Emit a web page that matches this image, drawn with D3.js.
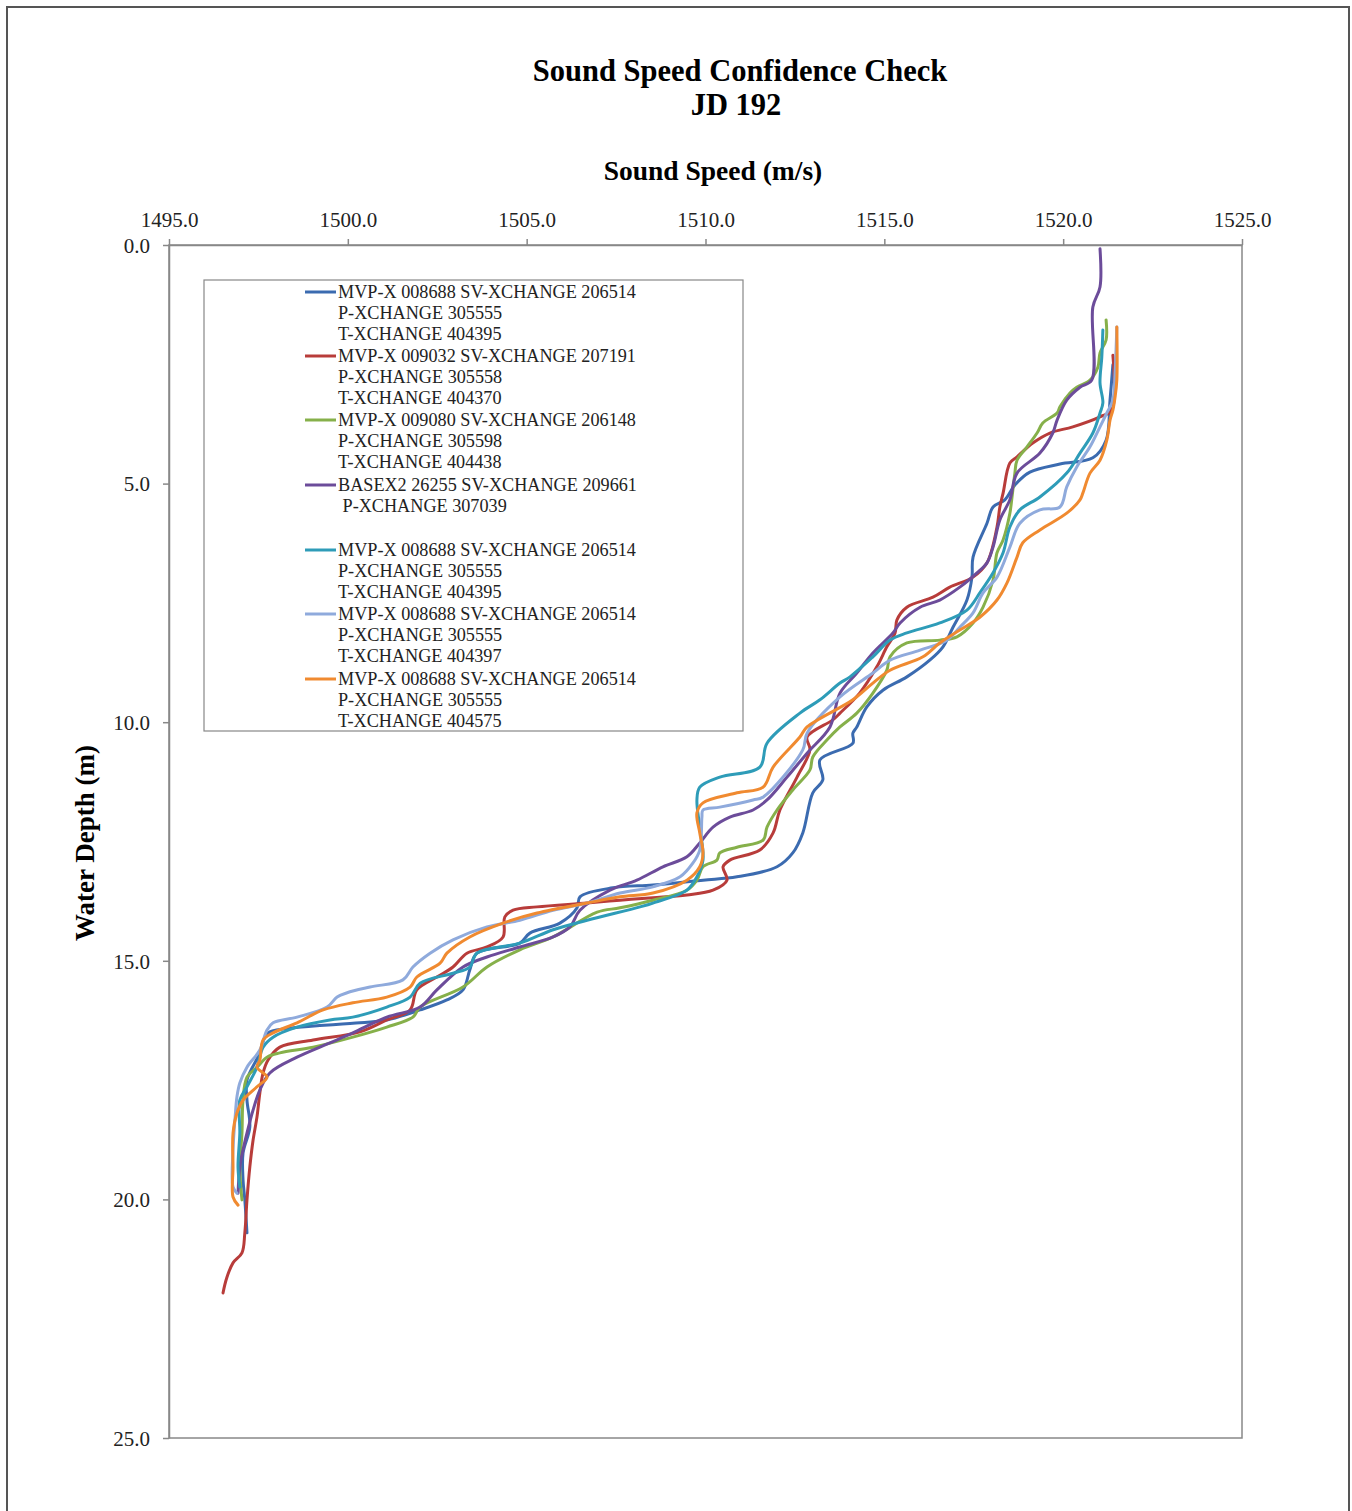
<!DOCTYPE html>
<html>
<head>
<meta charset="utf-8">
<script src="https://cdn.jsdelivr.net/npm/d3@7"></script>
<style>
	body { margin: 0; background: #fff; }
	svg { display: block; font-family: "Liberation Serif", "Times New Roman", serif; }
	.axis path, .axis line { stroke: #888; stroke-width: 1.5; }
	.axis text { font-family: "Liberation Serif", "Times New Roman", serif; font-size: 21px; fill: #222; }
	.profile { fill: none; stroke-width: 3; stroke-linejoin: round; stroke-linecap: round; }
</style>
</head>
<body>
<div id="chart"></div>
<script>
// sound speed (m/s) and water depth (m) for each cast
var speed1 = [1521.39,1521.31,1521.20,1520.83,1519.91,1519.07,1518.65,1518.37,1518.04,1517.87,1517.48,1517.45,1517.31,1516.92,1516.64,1516.27,1515.63,1514.96,1514.51,1514.23,1514.12,1514.12,1513.20,1513.28,1513.00,1512.72,1512.44,1512.00,1510.88,1509.93,1508.53,1507.41,1506.49,1506.41,1505.93,1505.09,1504.81,1503.61,1503.41,1503.22,1502.77,1502.02,1501.09,1500.34,1497.82,1497.68,1497.54,1497.18,1497.18,1497.26,1497.07,1497.07,1497.12,1497.18];
var depth1 = [2.51,3.25,4.09,4.46,4.59,4.76,5.03,5.34,5.49,5.83,6.54,6.96,7.44,8.01,8.42,8.70,9.05,9.33,9.68,10.10,10.23,10.44,10.79,11.21,11.48,12.32,12.74,13.03,13.24,13.31,13.41,13.47,13.66,13.89,14.21,14.42,14.63,14.84,15.19,15.61,15.82,16.03,16.24,16.30,16.49,16.60,16.93,17.50,17.92,18.48,19.03,19.59,20.01,20.70];

var speed2 = [1521.39,1521.36,1521.03,1520.27,1519.63,1519.15,1518.71,1518.51,1518.32,1518.23,1518.15,1517.87,1517.48,1516.83,1516.36,1515.63,1515.35,1515.30,1515.07,1514.79,1514.31,1513.76,1513.56,1512.84,1512.92,1512.56,1512.08,1511.89,1511.52,1510.68,1510.49,1510.60,1510.21,1509.48,1508.53,1507.61,1506.69,1505.29,1504.62,1504.39,1504.34,1503.89,1503.33,1502.94,1502.49,1501.93,1501.74,1501.09,1500.34,1499.03,1498.10,1497.77,1497.63,1497.54,1497.46,1497.35,1497.26,1497.18,1497.12,1497.04,1496.79,1496.62,1496.51];
var depth2 = [2.31,3.46,3.60,3.81,3.94,4.15,4.44,4.57,5.20,5.49,5.91,6.66,6.96,7.17,7.38,7.59,7.86,8.13,8.42,8.84,9.39,9.81,9.95,10.31,10.58,11.15,11.84,12.32,12.68,12.89,13.03,13.31,13.52,13.62,13.68,13.73,13.79,13.87,13.94,14.08,14.50,14.71,14.84,15.13,15.34,15.61,16.03,16.24,16.49,16.66,16.81,17.08,17.35,17.77,18.27,18.76,19.32,20.01,20.70,21.12,21.33,21.63,21.96];

var speed3 = [1521.20,1521.20,1521.03,1520.97,1520.75,1520.38,1520.19,1519.91,1519.83,1519.43,1519.27,1518.99,1518.71,1518.65,1518.57,1518.51,1518.32,1518.15,1518.04,1517.76,1517.48,1517.03,1516.55,1515.63,1515.16,1515.07,1514.68,1514.23,1513.76,1513.40,1513.00,1512.92,1512.44,1512.00,1511.72,1511.61,1510.88,1510.40,1510.32,1509.93,1509.76,1509.48,1508.53,1507.61,1506.97,1505.74,1504.81,1503.89,1503.22,1502.02,1501.82,1501.09,1500.14,1499.03,1498.10,1497.74,1497.46,1497.18,1497.07,1497.04,1496.98,1497.04];
var depth3 = [1.57,1.99,2.26,2.56,2.83,2.98,3.10,3.39,3.52,3.73,3.94,4.23,4.51,4.78,5.28,5.62,6.18,6.45,7.02,7.59,7.92,8.21,8.28,8.34,8.63,8.91,9.39,9.81,10.10,10.37,10.73,11.00,11.42,11.84,12.20,12.47,12.62,12.74,12.89,13.03,13.31,13.52,13.73,13.89,13.98,14.50,14.77,15.13,15.55,15.97,16.18,16.39,16.60,16.81,16.93,17.02,17.23,17.44,17.92,18.61,19.32,20.01];

var speed4 = [1521.03,1521.03,1520.83,1520.80,1520.47,1520.10,1519.83,1519.71,1519.35,1518.71,1518.51,1518.23,1518.04,1517.87,1517.59,1517.11,1516.55,1516.00,1515.44,1515.24,1514.68,1514.23,1513.76,1513.48,1512.84,1512.28,1511.72,1511.33,1510.68,1510.21,1509.84,1509.48,1508.81,1508.08,1507.33,1506.49,1506.21,1505.74,1504.81,1503.89,1503.22,1502.49,1502.02,1501.09,1500.14,1499.50,1498.58,1497.82,1497.54,1497.35,1497.18,1497.07,1496.98,1496.93];
var depth4 = [0.08,0.88,1.30,2.83,2.98,3.25,3.67,3.94,4.36,4.78,5.34,5.76,6.33,6.66,6.87,7.17,7.44,7.59,7.92,8.13,8.55,8.97,9.39,10.10,10.65,11.15,11.63,11.84,11.99,12.20,12.53,12.82,13.03,13.31,13.52,13.94,14.29,14.50,14.71,14.92,15.13,15.61,15.97,16.18,16.51,16.72,17.02,17.35,17.71,18.13,18.61,18.96,19.32,19.87];

var speed5 = [1521.11,1521.08,1521.03,1521.11,1521.03,1520.83,1520.47,1520.10,1519.35,1518.79,1518.51,1518.32,1518.04,1517.67,1517.31,1516.55,1515.63,1515.16,1514.68,1514.04,1513.76,1513.20,1512.64,1511.72,1511.52,1510.40,1509.84,1509.76,1509.84,1509.93,1509.76,1509.48,1508.53,1508.17,1506.69,1505.74,1504.81,1503.61,1503.41,1502.94,1502.02,1501.74,1501.09,1500.14,1499.50,1498.58,1497.91,1497.63,1497.46,1497.18,1496.98,1496.98,1496.93,1496.98];
var depth5 = [1.78,2.35,2.89,3.31,3.52,3.94,4.36,4.78,5.28,5.55,5.91,6.45,6.87,7.29,7.65,7.92,8.13,8.28,8.63,9.05,9.18,9.53,9.81,10.44,10.94,11.15,11.36,11.63,12.20,12.89,13.24,13.52,13.79,13.87,14.15,14.35,14.63,14.84,15.13,15.26,15.47,15.76,15.97,16.18,16.24,16.39,16.60,16.81,17.23,17.64,17.92,18.61,19.32,19.74];

var speed6 = [1521.50,1521.45,1521.39,1521.22,1521.03,1520.75,1520.38,1520.10,1519.91,1519.35,1518.79,1518.51,1518.15,1517.76,1517.48,1517.11,1516.75,1516.00,1515.16,1514.68,1513.76,1512.84,1512.72,1511.61,1511.33,1510.40,1509.93,1509.90,1509.84,1509.65,1509.29,1508.53,1507.61,1506.69,1505.74,1504.81,1503.89,1502.94,1502.30,1501.82,1501.54,1500.62,1499.98,1499.70,1499.42,1498.58,1497.91,1497.74,1497.54,1497.18,1496.98,1496.90,1496.85,1496.79,1496.79,1496.90];
var depth6 = [1.72,2.68,3.25,3.52,3.81,4.23,4.65,5.07,5.49,5.55,5.83,6.33,6.96,7.29,7.71,8.01,8.28,8.49,8.70,8.97,9.47,10.23,10.58,11.57,11.63,11.78,11.84,11.99,12.68,12.95,13.24,13.45,13.58,13.79,13.94,14.15,14.29,14.56,14.84,15.13,15.40,15.55,15.67,15.76,15.97,16.18,16.30,16.45,16.87,17.23,17.56,17.85,18.27,18.96,19.74,19.87];

var speed7 = [1521.50,1521.50,1521.45,1521.39,1521.31,1521.22,1521.03,1520.75,1520.55,1520.47,1520.10,1519.35,1518.87,1518.71,1518.43,1518.15,1517.67,1517.11,1516.55,1516.08,1515.16,1514.68,1514.12,1512.84,1512.64,1511.89,1511.61,1510.88,1509.93,1509.76,1509.84,1509.93,1509.84,1509.48,1508.53,1507.61,1506.69,1505.29,1504.34,1503.41,1502.77,1502.58,1501.93,1501.74,1501.09,1500.14,1499.31,1498.58,1497.91,1497.63,1497.54,1497.46,1497.74,1497.46,1497.07,1496.90,1496.79,1496.79,1496.79,1496.93];
var depth7 = [1.72,2.83,3.19,3.46,3.67,4.09,4.51,4.78,5.20,5.34,5.62,5.97,6.24,6.54,7.08,7.44,7.80,8.07,8.34,8.63,8.91,9.18,9.53,10.10,10.31,10.94,11.36,11.48,11.69,11.90,12.32,12.74,13.03,13.31,13.58,13.66,13.79,14.00,14.21,14.50,14.84,15.05,15.34,15.55,15.76,15.88,16.03,16.30,16.51,16.66,17.08,17.23,17.44,17.64,17.92,18.19,18.61,19.32,19.95,20.12];

var legendLabels = [
	["MVP-X 008688 SV-XCHANGE 206514", "P-XCHANGE 305555", "T-XCHANGE 404395"],
	["MVP-X 009032 SV-XCHANGE 207191", "P-XCHANGE 305558", "T-XCHANGE 404370"],
	["MVP-X 009080 SV-XCHANGE 206148", "P-XCHANGE 305598", "T-XCHANGE 404438"],
	["BASEX2 26255 SV-XCHANGE 209661", "\u00a0P-XCHANGE 307039", ""],
	["MVP-X 008688 SV-XCHANGE 206514", "P-XCHANGE 305555", "T-XCHANGE 404395"],
	["MVP-X 008688 SV-XCHANGE 206514", "P-XCHANGE 305555", "T-XCHANGE 404397"],
	["MVP-X 008688 SV-XCHANGE 206514", "P-XCHANGE 305555", "T-XCHANGE 404575"]
];

var xTicks = [1495, 1500, 1505, 1510, 1515, 1520, 1525];
var yTicks = [0, 5, 10, 15, 20, 25];

var colors = ["#3b6bb0", "#b83c3a", "#86b04a", "#6c4c9a", "#2e9cb8", "#8faadc", "#f08a30"];

var speeds = [speed1, speed2, speed3, speed4, speed5, speed6, speed7];
var depths = [depth1, depth2, depth3, depth4, depth5, depth6, depth7];

var width = 1352,
	height = 1511;

var margin = { top: 245, right: 110, bottom: 73, left: 169 };

var chart_width = width - (margin.left + margin.right);
var chart_height = height - (margin.top + margin.bottom);

var svg = d3.select("#chart").append("svg")
	.attr("width", width)
	.attr("height", height);

// outer frame
svg.append("rect")
	.attr("x", 7)
	.attr("y", 7)
	.attr("width", 1342)
	.attr("height", 1512)
	.style("fill", "none")
	.style("stroke", "#555")
	.style("stroke-width", 2);

var xScale = d3.scaleLinear().domain([1495, 1525]).range([0, chart_width]);
var yScale = d3.scaleLinear().domain([0, 25]).range([0, chart_height]);

var g = svg.append("g").attr("transform", "translate(" + margin.left + "," + margin.top + ")");

// plot frame
g.append("rect")
	.attr("width", chart_width)
	.attr("height", chart_height)
	.style("fill", "none")
	.style("stroke", "#888")
	.style("stroke-width", 1.5);

var xAxis = d3.axisTop(xScale)
	.tickValues(xTicks)
	.tickFormat(d3.format(".1f"))
	.tickSize(6)
	.tickSizeOuter(0)
	.tickPadding(12);

var yAxis = d3.axisLeft(yScale)
	.tickValues(yTicks)
	.tickFormat(d3.format(".1f"))
	.tickSize(6)
	.tickSizeOuter(0)
	.tickPadding(13);

g.append("g").attr("class", "x axis").call(xAxis);
g.append("g").attr("class", "y axis").call(yAxis);

g.selectAll(".y.axis text").attr("dy", "0.35em");

var line = d3.line()
	.x(function(d) { return xScale(d[0]); })
	.y(function(d) { return yScale(d[1]); })
	.curve(d3.curveCatmullRom.alpha(0.5));

g.selectAll(".profile")
	.data(speeds.map(function(s, i) {
		return s.map(function(v, j) { return [v, depths[i][j]]; });
	}))
	.enter()
	.append("path")
	.attr("class", "profile")
	.attr("d", line)
	.style("stroke", function(d, i) { return colors[i]; });

// titles
svg.append("text")
	.attr("x", 740)
	.attr("y", 81)
	.attr("text-anchor", "middle")
	.style("font-size", "30.5px")
	.style("font-weight", "bold")
	.text("Sound Speed Confidence Check");

svg.append("text")
	.attr("x", 736)
	.attr("y", 115)
	.attr("text-anchor", "middle")
	.style("font-size", "30.5px")
	.style("font-weight", "bold")
	.text("JD 192");

svg.append("text")
	.attr("x", 713)
	.attr("y", 180)
	.attr("text-anchor", "middle")
	.style("font-size", "27.5px")
	.style("font-weight", "bold")
	.text("Sound Speed (m/s)");

svg.append("text")
	.attr("transform", "translate(94,843) rotate(-90)")
	.attr("text-anchor", "middle")
	.style("font-size", "27px")
	.style("font-weight", "bold")
	.text("Water Depth (m)");

// legend
var legend = svg.append("g").attr("transform", "translate(204,280)");

legend.append("rect")
	.attr("width", 539)
	.attr("height", 451)
	.style("fill", "#fff")
	.style("stroke", "#888")
	.style("stroke-width", 1.2);

var entryTop = [12, 76, 140, 205, 270, 334, 399];
var rowGap = 20.6;

var entries = legend.selectAll(".entry")
	.data(legendLabels)
	.enter()
	.append("g")
	.attr("class", "entry")
	.attr("transform", function(d, i) { return "translate(0," + entryTop[i] + ")"; });

entries.append("line")
	.attr("x1", 101)
	.attr("x2", 132)
	.style("stroke", function(d, i) { return colors[i]; })
	.style("stroke-width", 3);

entries.selectAll("text")
	.data(function(d) { return d; })
	.enter()
	.append("text")
	.attr("x", 134)
	.attr("y", function(d, j) { return j * rowGap; })
	.attr("dy", "0.35em")
	.style("font-size", "18.2px")
	.style("fill", "#222")
	.text(function(d) { return d; });
</script>
</body>
</html>
